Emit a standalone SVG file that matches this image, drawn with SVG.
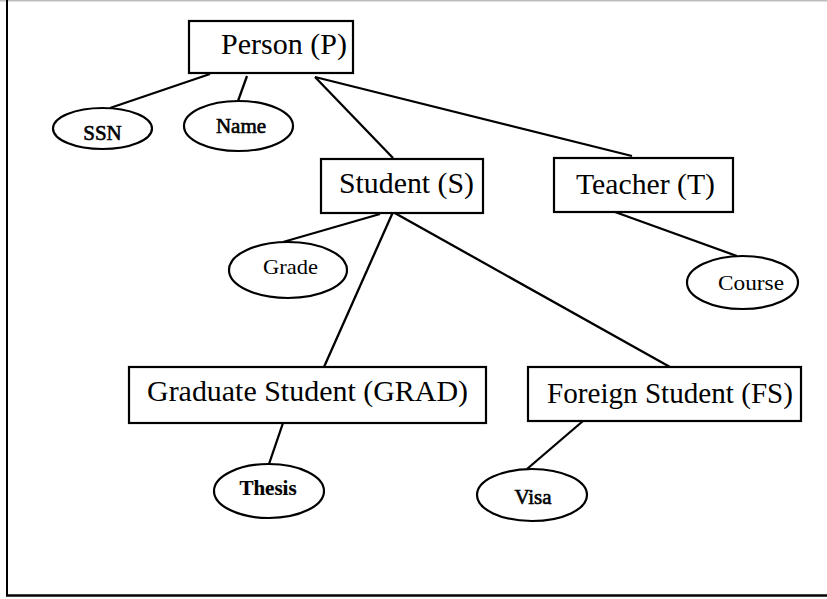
<svg xmlns="http://www.w3.org/2000/svg" width="827" height="599" viewBox="0 0 827 599">
  <style>
    .box { fill: #fff; stroke: #000; stroke-width: 2.2; }
    .attr { fill: #fff; stroke: #000; stroke-width: 2.2; }
    .lbl { font-family: "Liberation Serif", "DejaVu Serif", serif; font-size: 30px; fill: #000; text-anchor: middle; }
    .alb { font-family: "Liberation Serif", "DejaVu Serif", serif; font-size: 21px; fill: #000; text-anchor: middle; }
    .b { stroke: #000; stroke-width: 0.6; }
    .edge { stroke: #000; stroke-width: 2.3; fill: none; }
  </style>
  <rect width="827" height="599" fill="#fff"/>
  <!-- outer frame -->
  <g id="frame">
    <line x1="0" y1="0.8" x2="827" y2="0.8" stroke="#bdbdbd" stroke-width="1.5"/>
    <line x1="7" y1="0" x2="7" y2="596" stroke="#000" stroke-width="2"/>
    <line x1="6" y1="595.5" x2="827" y2="595.5" stroke="#000" stroke-width="2.5"/>
  </g>
  <!-- connectors -->
  <g id="connectors">
    <line class="edge" x1="210" y1="74" x2="110" y2="108"/>
    <line class="edge" x1="247" y1="76" x2="238" y2="101"/>
    <line class="edge" x1="315" y1="77" x2="393" y2="158"/>
    <line class="edge" x1="315" y1="77" x2="632" y2="156"/>
    <line class="edge" x1="380" y1="214" x2="283" y2="242"/>
    <line class="edge" x1="393" y1="212" x2="324" y2="367"/>
    <line class="edge" x1="393" y1="212" x2="670" y2="367"/>
    <line class="edge" x1="615" y1="212" x2="737" y2="256"/>
    <line class="edge" x1="283" y1="423" x2="269" y2="464"/>
    <line class="edge" x1="583" y1="421" x2="527" y2="469"/>
  </g>
  <g id="person">
    <rect class="box" x="189" y="21" width="164" height="52"/>
    <text class="lbl" x="284" y="54" textLength="126" lengthAdjust="spacingAndGlyphs">Person (P)</text>
  </g>
  <g id="ssn">
    <ellipse class="attr" cx="102.5" cy="128.5" rx="49.5" ry="20.5"/>
    <text class="alb b" x="102.5" y="140" font-size="20">SSN</text>
  </g>
  <g id="name">
    <ellipse class="attr" cx="238.5" cy="126" rx="54.5" ry="25"/>
    <text class="alb b" x="241" y="133" font-size="21">Name</text>
  </g>
  <g id="student">
    <rect class="box" x="321" y="159" width="162" height="54"/>
    <text class="lbl" x="406.5" y="193" textLength="135" lengthAdjust="spacingAndGlyphs">Student (S)</text>
  </g>
  <g id="teacher">
    <rect class="box" x="554" y="158" width="179" height="54"/>
    <text class="lbl" x="645.5" y="194" textLength="139" lengthAdjust="spacingAndGlyphs">Teacher (T)</text>
  </g>
  <g id="grade">
    <ellipse class="attr" cx="288" cy="270" rx="59" ry="28"/>
    <text class="alb" x="290.5" y="274" font-size="23" textLength="55" lengthAdjust="spacingAndGlyphs">Grade</text>
  </g>
  <g id="course">
    <ellipse class="attr" cx="742.5" cy="282.5" rx="55.5" ry="26.5"/>
    <text class="alb" x="751" y="290" font-size="24" textLength="66" lengthAdjust="spacingAndGlyphs">Course</text>
  </g>
  <g id="grad">
    <rect class="box" x="129" y="367" width="357" height="56"/>
    <text class="lbl" x="307.5" y="401" textLength="321" lengthAdjust="spacingAndGlyphs">Graduate Student (GRAD)</text>
  </g>
  <g id="foreign">
    <rect class="box" x="528" y="367" width="273" height="54"/>
    <text class="lbl" x="670" y="403" textLength="246" lengthAdjust="spacingAndGlyphs">Foreign Student (FS)</text>
  </g>
  <g id="thesis">
    <ellipse class="attr" cx="269" cy="491" rx="55" ry="27"/>
    <text class="alb b" x="268" y="495" font-size="21" font-weight="bold" style="stroke-width:0.2">Thesis</text>
  </g>
  <g id="visa">
    <ellipse class="attr" cx="532" cy="495" rx="55" ry="26"/>
    <text class="alb b" x="533" y="504" font-size="22">Visa</text>
  </g>
</svg>
